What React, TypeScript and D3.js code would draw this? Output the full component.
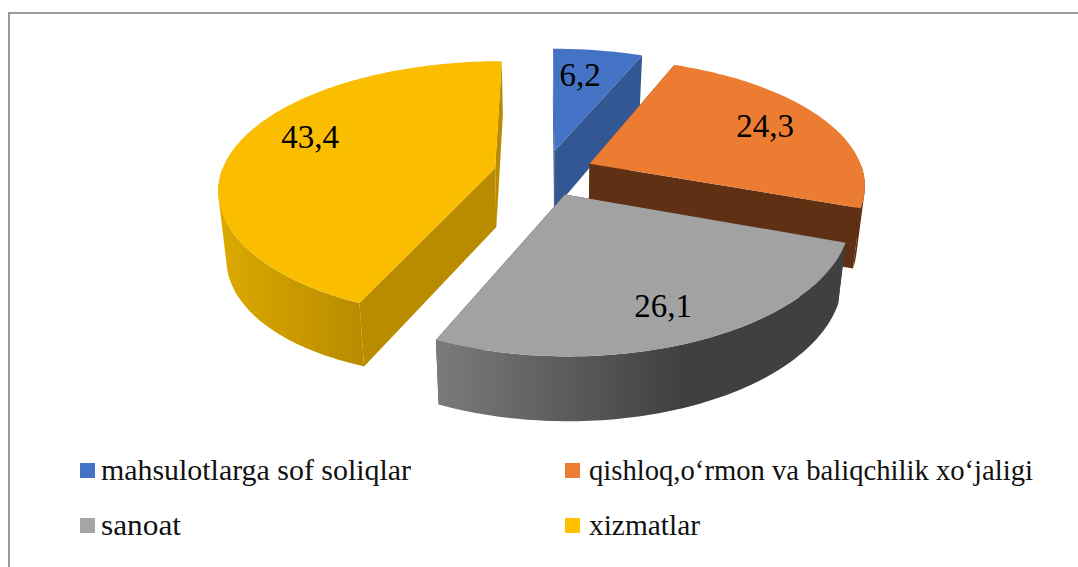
import React from 'react';
import * as d3 from 'd3';

const categories = ['mahsulotlarga sof soliqlar', 'qishloq,o‘rmon va baliqchilik xo‘jaligi', 'sanoat', 'xizmatlar'];
const values = [6.2, 24.3, 26.1, 43.4];
const valueLabels = ['6,2', '24,3', '26,1', '43,4'];
const topColors = ['#4472c4', '#eb7c31', '#a2a2a2', '#fbbd00'];
const legendColors = ['#4472c4', '#ed7d31', '#a5a5a5', '#ffc000'];
const wallColors = ['#325792', '#5f3013', '#404040', '#b98c00'];
const rimLightColors = ['#325792', '#5f3013', '#7b7b7b', '#dcaa00'];
const explodes = [0.18, 0.18, 0.18, 0.187];
const paintOrder = [0, 1, 3, 2];

const W = 1078;
const H = 567;
const cx = 545;
const cy = 173;
const perspX = 6.5;
const perspY = 5.94;
const shrink = 0.975;

const xScale = d3.scaleLinear().domain([-1, 1]).range([cx - 274, cx + 274]);
const yScale = d3.scaleLinear().domain([-1, 1]).range([cy - 126.5, cy + 126.5]);

// plane coords -> screen, lower=true gives the bottom face of the pie
function project(px: number, pz: number, lower = false): [number, number] {
  let x = xScale((px * perspX) / (perspX - pz));
  let y = yScale((pz * perspY) / (perspY - pz));
  if (lower) {
    x = cx + (x - cx) * shrink;
    y = y + 59 + 5 * pz + 14 * Math.max(0, -px - 0.6);
  }
  return [x, y];
}

const line = d3.line();
const pieLayout = d3.pie<number>().sort(null);
const arcs = pieLayout(values);

function rimAngles(a0: number, a1: number) {
  const n = Math.max(2, Math.ceil((a1 - a0) / 0.02));
  return d3.range(n + 1).map(i => a0 + ((a1 - a0) * i) / n);
}

// only the front half of the rim is ever seen
const frontOnly = (rim: number[]) => rim.filter(a => a > Math.PI / 2 && a < (3 * Math.PI) / 2);

function Slice({ i }: { i: number }) {
  const arc = arcs[i];
  const mid = (arc.startAngle + arc.endAngle) / 2;
  const ox = Math.sin(mid) * explodes[i];
  const oz = -Math.cos(mid) * explodes[i];
  const pt = (a: number, r: number, lower = false) =>
    project(ox + Math.sin(a) * r, oz - Math.cos(a) * r, lower);

  const apexTop = pt(0, 0);
  const apexLow = pt(0, 0, true);
  const rim = rimAngles(arc.startAngle, arc.endAngle);
  const topPath = line([apexTop, ...rim.map(a => pt(a, 1))]) + 'Z';

  const edge = (a: number) => line([apexTop, pt(a, 1), pt(a, 1, true), apexLow]) + 'Z';

  // one quad per step, all wound the same way, so the left silhouette fills without holes
  const front = frontOnly(rim);
  const rimPath = front.length > 1
    ? d3.pairs(front)
        .map(([a0, a1]) => {
          const quad = [pt(a0, 1), pt(a1, 1), pt(a1, 1, true), pt(a0, 1, true)];
          return line(d3.polygonArea(quad) < 0 ? quad.reverse() : quad) + 'Z';
        })
        .join('')
    : null;

  return (
    <g>
      <path d={edge(arc.startAngle)} fill={wallColors[i]} />
      <path d={edge(arc.endAngle)} fill={wallColors[i]} />
      {rimPath && <path d={rimPath} fill={`url(#rim${i})`} />}
      <path d={topPath} fill={topColors[i]} />
    </g>
  );
}

// gradient runs between the screen ends of the front rim
function rimGradient(i: number) {
  const arc = arcs[i];
  const mid = (arc.startAngle + arc.endAngle) / 2;
  const ox = Math.sin(mid) * explodes[i];
  const oz = -Math.cos(mid) * explodes[i];
  const rim = frontOnly(rimAngles(arc.startAngle, arc.endAngle));
  const xs = rim.map(a => project(ox + Math.sin(a), oz - Math.cos(a))[0]);
  const [x0, x1] = d3.extent(xs) as [number, number];
  return (
    <linearGradient key={i} id={`rim${i}`} gradientUnits="userSpaceOnUse" x1={x0} x2={x1} y1={0} y2={0}>
      <stop offset="0" stopColor={rimLightColors[i]} />
      <stop offset={i === 2 ? 0.6 : 1} stopColor={wallColors[i]} />
    </linearGradient>
  );
}

const labelPos = [
  [580, 78],
  [765, 129],
  [663, 309],
  [310, 140],
];
const legendCols = [80, 565];
const legendRows = [471, 526];
const legendTextX = [101, 589];
const legendTextWidths = [310, 444, 80, 111];

export default function App() {
  return (
    <svg
      width={W}
      height={H}
      style={{ position: 'absolute', left: 0, top: 0, background: '#fff' }}
      fontFamily="'Liberation Serif', serif"
    >
      <defs>{arcs.map((_, i) => rimGradient(i))}</defs>
      <path d={`M9 ${H}V13H${W}`} fill="none" stroke="#9a9a9a" strokeWidth={2} />
      {paintOrder.map(i => <Slice key={i} i={i} />)}
      {valueLabels.map((t, i) => (
        <text key={t} x={labelPos[i][0]} y={labelPos[i][1]} fontSize={33} textAnchor="middle" dominantBaseline="middle">
          {t}
        </text>
      ))}
      {categories.map((c, i) => {
        const col = i % 2;
        const ly = legendRows[Math.floor(i / 2)];
        return (
          <g key={c}>
            <rect x={legendCols[col]} y={ly - 8} width={15} height={15} fill={legendColors[i]} />
            <text
              x={legendTextX[col]}
              y={ly + 9}
              fontSize={30}
              fill="#111"
              textLength={legendTextWidths[i]}
              lengthAdjust="spacingAndGlyphs"
            >
              {c}
            </text>
          </g>
        );
      })}
    </svg>
  );
}
